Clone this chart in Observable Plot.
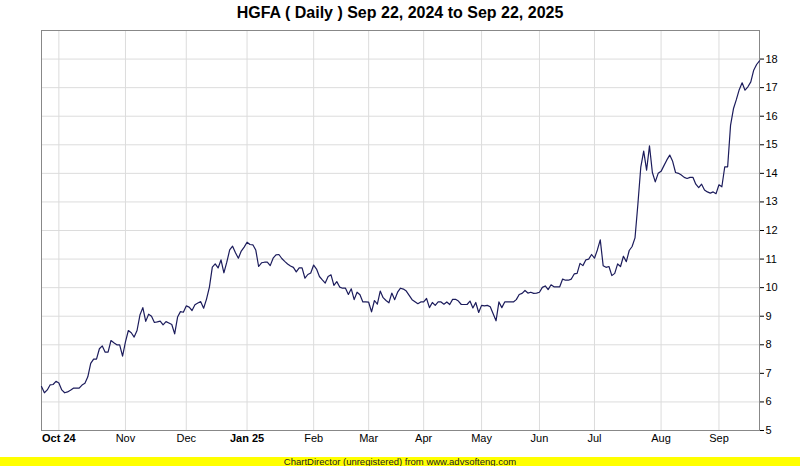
<!DOCTYPE html>
<html>
<head>
<meta charset="utf-8">
<script src="https://cdn.jsdelivr.net/npm/d3@7"></script>
<script src="https://cdn.jsdelivr.net/npm/@observablehq/plot@0.6"></script>
<style>
  html, body { margin: 0; padding: 0; background: #fff; }
  #wrap { width: 800px; height: 466px; overflow: hidden; font-family: "Liberation Sans", Arial, sans-serif; }
  #title { height: 26px; line-height: 26px; text-align: center; font-weight: bold; font-size: 16px; color: #000; }
  #footer { height: 9px; line-height: 9px; background: #ffff00; text-align: center; font-size: 9.5px; color: #222; }
  svg { display: block; }
</style>
</head>
<body>
<div id="wrap">
  <div id="title">HGFA ( Daily ) Sep 22, 2024 to Sep 22, 2025</div>
  <div id="chart"></div>
  <div id="footer">ChartDirector (unregistered) from www.advsofteng.com</div>
</div>
<script>
// Daily closing values, one per trading day (Sep 23, 2024 .. Sep 22, 2025)
const closes = [
  6.54, 6.32, 6.42, 6.60, 6.61, 6.72, 6.66, 6.42, 6.32, 6.35,
  6.41, 6.48, 6.48, 6.48, 6.59, 6.65, 6.88, 7.35, 7.50, 7.50,
  7.86, 7.96, 7.74, 7.74, 8.15, 8.07, 8.00, 8.00, 7.60, 8.10,
  8.50, 8.42, 8.27, 8.50, 9.04, 9.30, 8.82, 9.07, 9.00, 8.78,
  8.80, 8.83, 8.70, 8.81, 8.76, 8.71, 8.38, 8.97, 9.16, 9.14,
  9.36, 9.32, 9.20, 9.40, 9.46, 9.51, 9.28, 9.60, 10.02, 10.72,
  10.83, 10.69, 10.97, 10.52, 10.89, 11.32, 11.45, 11.22, 11.03, 11.28,
  11.42, 11.59, 11.51, 11.50, 11.32, 10.74, 10.87, 10.89, 10.89, 10.77,
  11.03, 11.15, 11.16, 11.02, 10.92, 10.83, 10.76, 10.71, 10.55, 10.69,
  10.69, 10.33, 10.46, 10.51, 10.79, 10.65, 10.39, 10.27, 10.16, 10.39,
  10.45, 10.08, 10.21, 10.02, 9.98, 9.98, 9.76, 9.96, 9.58, 9.84,
  9.75, 9.50, 9.50, 9.49, 9.15, 9.55, 9.42, 9.88, 9.65, 9.55,
  9.47, 9.81, 9.58, 9.84, 9.98, 9.95, 9.88, 9.73, 9.58, 9.51,
  9.44, 9.50, 9.50, 9.62, 9.30, 9.48, 9.38, 9.50, 9.50, 9.42,
  9.50, 9.41, 9.59, 9.59, 9.53, 9.41, 9.41, 9.41, 9.53, 9.29,
  9.48, 9.13, 9.38, 9.36, 9.38, 9.33, 9.09, 8.84, 9.50, 9.30,
  9.50, 9.50, 9.50, 9.50, 9.58, 9.76, 9.80, 9.90, 9.81, 9.84,
  9.80, 9.81, 9.84, 10.01, 10.06, 9.93, 10.10, 10.03, 10.03, 10.03,
  10.30, 10.26, 10.26, 10.30, 10.48, 10.50, 10.85, 10.77, 10.97, 11.00,
  11.16, 11.03, 11.32, 11.67, 10.77, 10.71, 10.74, 10.42, 10.50, 10.83,
  10.74, 11.10, 10.91, 11.30, 11.44, 11.74, 12.93, 14.22, 14.78, 14.11,
  14.96, 14.03, 13.70, 14.00, 14.07, 14.27, 14.47, 14.64, 14.42, 14.03,
  14.00, 13.94, 13.86, 13.82, 13.86, 13.86, 13.62, 13.50, 13.62, 13.42,
  13.35, 13.31, 13.35, 13.29, 13.60, 13.53, 14.23, 14.23, 15.68, 16.26,
  16.58, 16.93, 17.17, 16.91, 17.03, 17.20, 17.61, 17.81, 17.94
];

// Month labels and the trading-day index where each month starts
const monthLabels = ["Oct 24", "Nov", "Dec", "Jan 25", "Feb", "Mar", "Apr", "May", "Jun", "Jul", "Aug", "Sep"];
const monthIndex  = [6, 29, 50, 71, 94, 113, 132, 152, 172, 191, 214, 234];
const boldLabels  = ["Oct 24", "Jan 25"];

// Y axis ticks
const yTicks = [5, 6, 7, 8, 9, 10, 11, 12, 13, 14, 15, 16, 17, 18];
const yDomain = [5, 19];

const series = closes.map((v, i) => ({i, v}));
const months = monthLabels.map((label, k) => ({label, idx: monthIndex[k], bold: boldLabels.includes(label)}));

const chart = Plot.plot({
  width: 800,
  height: 431,
  marginTop: 4,
  marginBottom: 27,
  marginLeft: 41,
  marginRight: 41,
  style: {fontFamily: "Liberation Sans, Arial, sans-serif", fontSize: "11px", color: "#000", background: "#fff"},
  x: {type: "linear", domain: [0, closes.length - 1], axis: null},
  y: {domain: yDomain},
  marks: [
    Plot.gridY(d3.range(6, 19), {stroke: "#dcdcdc", strokeOpacity: 1}),
    Plot.gridX(monthIndex, {stroke: "#dcdcdc", strokeOpacity: 1}),
    Plot.frame({stroke: "#888"}),
    Plot.line(series, {x: "i", y: "v", stroke: "#1c1c5c", strokeWidth: 1.2}),
    Plot.axisY({anchor: "right", ticks: yTicks, tickSize: 4, tickPadding: 2, fontSize: 11, label: null, tickFormat: d => String(d)}),
    Plot.text(months.filter(d => !d.bold), {x: "idx", text: "label", frameAnchor: "bottom", dy: 11, fontSize: 11, fill: "#000"}),
    Plot.text(months.filter(d => d.bold), {x: "idx", text: "label", frameAnchor: "bottom", dy: 11, fontSize: 11, fontWeight: "bold", fill: "#000"})
  ]
});
document.getElementById("chart").appendChild(chart);
</script>
</body>
</html>
